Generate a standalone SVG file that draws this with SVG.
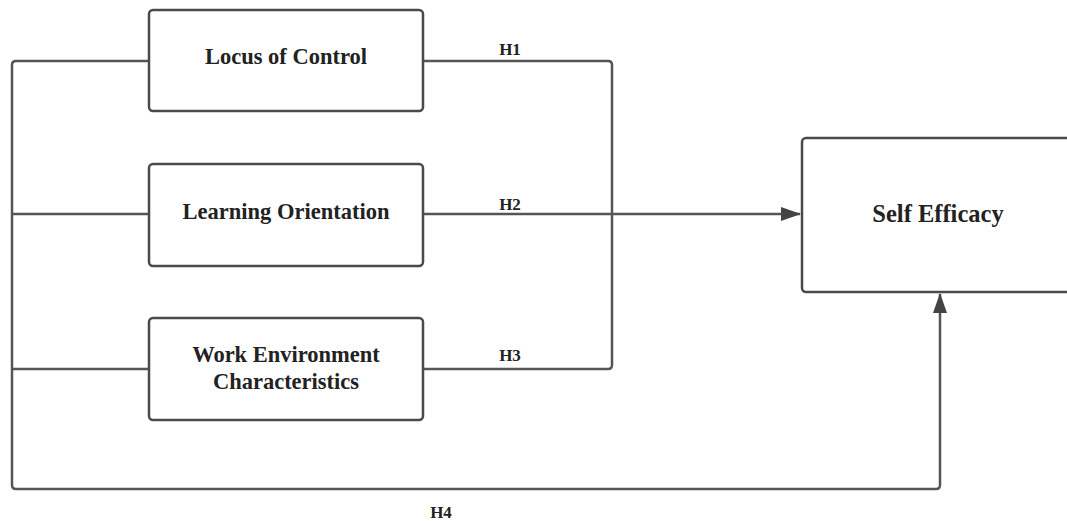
<svg xmlns="http://www.w3.org/2000/svg" width="1067" height="521" viewBox="0 0 1067 521">
<style>
.box{fill:#fff;stroke:#4a4a4a;stroke-width:2.5}
.lbl{font-family:"Liberation Serif",serif;font-weight:bold;font-size:22.5px;fill:#222;text-anchor:middle}
.big{font-size:24.5px}
.h{font-family:"Liberation Serif",serif;font-weight:bold;font-size:17px;fill:#222;text-anchor:middle}
.ln{fill:none;stroke:#555;stroke-width:2.5;stroke-linejoin:round}
</style>
<defs>
<marker id="arr2" markerWidth="20" markerHeight="14" refX="19" refY="7" orient="auto" markerUnits="userSpaceOnUse" viewBox="0 0 20 14">
<path d="M0,0 L20,7 L0,14 z" fill="#444"/>
</marker>
</defs>
<rect width="1067" height="521" fill="#fff"/>
<g id="connectors">
<path class="ln" d="M149,61 H16 Q12,61 12,65 V485 Q12,489 16,489 H936 Q940,489 940,485 V294" marker-end="url(#arr2)"/>
<path class="ln" d="M12,214 H149"/>
<path class="ln" d="M12,369 H149"/>
<path class="ln" d="M423,61 H608 Q612,61 612,65 V365 Q612,369 608,369 H423"/>
<path class="ln" d="M423,214 H800" marker-end="url(#arr2)"/>
<text class="h" x="510" y="55">H1</text>
<text class="h" x="510" y="210">H2</text>
<text class="h" x="510" y="361">H3</text>
<text class="h" x="441" y="518">H4</text>
</g>
<g id="locus">
<rect class="box" x="149" y="10" width="274" height="101" rx="4"/>
<text class="lbl" x="286" y="64">Locus of Control</text>
</g>
<g id="learning">
<rect class="box" x="149" y="164" width="274" height="102" rx="4"/>
<text class="lbl" x="286" y="219">Learning Orientation</text>
</g>
<g id="work">
<rect class="box" x="149" y="318" width="274" height="102" rx="4"/>
<text class="lbl" x="286" y="362">Work Environment</text>
<text class="lbl" x="286" y="389">Characteristics</text>
</g>
<g id="self">
<rect class="box" x="802" y="138" width="275" height="154" rx="4"/>
<text class="lbl big" x="938" y="222">Self Efficacy</text>
</g>
</svg>
